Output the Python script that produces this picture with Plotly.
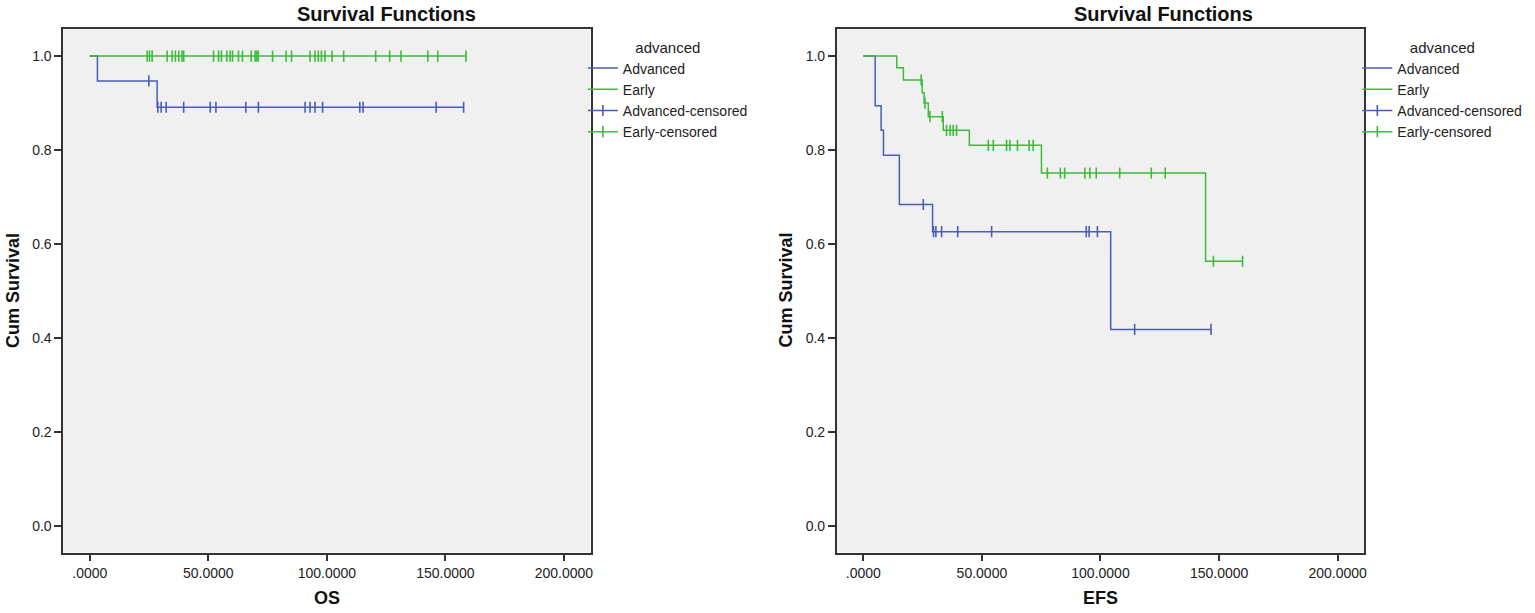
import numpy as np
import plotly.graph_objects as go

# ---- data (time, cumulative survival) ----
# OS, Advanced
os_adv_times = [3.2, 28.4]
os_adv_surv = [0.947, 0.891]
os_adv_cens = [24.9, 28.7, 30.1, 32.2, 39.6, 50.8, 53.2, 65.8, 71.1, 90.8,
               92.9, 95.0, 98.2, 113.9, 115.3, 146.1, 157.7]
# OS, Early (no events)
os_early_times = []
os_early_surv = []
os_early_cens = [24.2, 25.2, 26.3, 32.6, 34.7, 36.1, 37.5, 38.9, 39.6, 52.2,
                 54.3, 55.5, 57.8, 59.2, 60.2, 62.7, 64.4, 68.1, 69.7, 70.4,
                 71.1, 77.1, 82.8, 85.1, 92.9, 95.0, 96.4, 97.7, 99.2, 102.2,
                 107.1, 120.6, 126.5, 131.3, 142.6, 146.8, 158.7]
# EFS, Advanced
efs_adv_times = [5.0, 7.5, 8.5, 15.2, 29.2, 104.3]
efs_adv_surv = [0.894, 0.842, 0.789, 0.684, 0.626, 0.418]
efs_adv_cens = [25.3, 29.6, 30.6, 33.0, 39.8, 54.1, 94.0, 95.2, 98.7, 114.4, 146.6]
# EFS, Early
efs_early_times = [14.1, 16.9, 24.8, 25.6, 27.4, 33.7, 44.7, 75.1, 144.3]
efs_early_surv = [0.975, 0.949, 0.922, 0.900, 0.871, 0.842, 0.810, 0.751, 0.563]
efs_early_cens = [24.4, 26.0, 28.1, 33.3, 35.1, 36.6, 37.9, 39.3, 52.7, 54.8,
                  60.4, 61.8, 65.0, 69.9, 71.6, 77.6, 83.1, 84.9, 93.4, 95.5,
                  98.2, 108.1, 121.4, 127.3, 147.6, 159.9]

x_ticks = [0, 50, 100, 150, 200]
x_ticktext = [".0000", "50.0000", "100.0000", "150.0000", "200.0000"]
y_ticks = [0, 0.2, 0.4, 0.6, 0.8, 1.0]
y_ticktext = ["0.0", "0.2", "0.4", "0.6", "0.8", "1.0"]

BLUE = "#4A5CB8"
GREEN = "#3DBB3D"
FONT = "Arial, Liberation Sans, sans-serif"
W, H = 1535, 613


def fx(p):
    return p / W


def fy(p):
    return 1 - p / H


def step_path(times, surv, cens):
    x = [0] + list(times) + [max(cens)]
    y = [1.0] + list(surv) + [surv[-1] if surv else 1.0]
    return x, y


def cens_level(times, surv, cens):
    s = np.array([1.0] + list(surv))
    idx = np.searchsorted(np.array(times, dtype=float), cens, side="right")
    return s[idx]


def gapped(v):
    out = []
    for a in v:
        out += [float(a), None]
    return out


fig = go.Figure()

panels = [
    ("x", "y", "legend", [
        ("Advanced", BLUE, os_adv_times, os_adv_surv, os_adv_cens),
        ("Early", GREEN, os_early_times, os_early_surv, os_early_cens)]),
    ("x2", "y2", "legend2", [
        ("Advanced", BLUE, efs_adv_times, efs_adv_surv, efs_adv_cens),
        ("Early", GREEN, efs_early_times, efs_early_surv, efs_early_cens)]),
]

for xa, ya, lg, groups in panels:
    for name, col, t, s, c in groups:
        px_, py_ = step_path(t, s, c)
        fig.add_trace(go.Scatter(x=px_, y=py_, mode="lines", line_shape="hv",
                                 line=dict(color=col, width=1.5), name=name,
                                 xaxis=xa, yaxis=ya, legend=lg, hoverinfo="skip"))
    for name, col, t, s, c in groups:
        cy = cens_level(t, s, c)
        fig.add_trace(go.Scatter(x=gapped(c), y=gapped(cy), mode="lines+markers",
                                 line=dict(color=col, width=1.5),
                                 marker=dict(symbol="line-ns", size=8,
                                             line=dict(color=col, width=1.6)),
                                 name=name + "-censored", xaxis=xa, yaxis=ya,
                                 legend=lg, hoverinfo="skip"))

y_dom = [fy(552.5), fy(29.3)]
axis_common = dict(showline=True, mirror=True, linecolor="#333333", linewidth=1.5,
                   showgrid=False, zeroline=False, ticks="outside", ticklen=7,
                   tickwidth=1.5, tickcolor="#333333",
                   tickfont=dict(family=FONT, size=14, color="#222222"))
xa_common = dict(axis_common, range=[-11.24, 211.24], tickvals=x_ticks, ticktext=x_ticktext)
ya_common = dict(axis_common, range=[-0.057, 1.057], tickvals=y_ticks, ticktext=y_ticktext)

legend_common = dict(bgcolor="rgba(0,0,0,0)", font=dict(family=FONT, size=14, color="#222222"),
                     title=dict(text="advanced", side="top center",
                                font=dict(family=FONT, size=15, color="#222222")),
                     xanchor="left", yanchor="top", traceorder="normal")

fig.update_layout(
    width=W, height=H, margin=dict(l=0, r=0, t=0, b=0),
    paper_bgcolor="white", plot_bgcolor="#F0F0F0",
    xaxis=dict(xa_common, domain=[fx(63.3), fx(591.7)], anchor="y"),
    yaxis=dict(ya_common, domain=y_dom, anchor="x"),
    xaxis2=dict(xa_common, domain=[fx(838.3), fx(1367)], anchor="y2"),
    yaxis2=dict(ya_common, domain=y_dom, anchor="x2"),
    legend=dict(legend_common, x=fx(584), y=fy(33)),
    legend2=dict(legend_common, x=fx(1360), y=fy(33)),
    font=dict(family=FONT),
)

ann = []
for cx, axtitle, ycx in [(387.5, "OS", 327.5), (1166, "EFS", 1102.7)]:
    ann.append(dict(text="<b>Survival Functions</b>", x=fx(cx), y=fy(14),
                    xref="paper", yref="paper", showarrow=False,
                    xanchor="center", yanchor="middle",
                    font=dict(family=FONT, size=20, color="#111111")))
    ann.append(dict(text="<b>" + axtitle + "</b>", x=fx(ycx), y=fy(598),
                    xref="paper", yref="paper", showarrow=False,
                    xanchor="center", yanchor="middle",
                    font=dict(family=FONT, size=18, color="#111111")))
for lx in [13, 788]:
    ann.append(dict(text="<b>Cum Survival</b>", x=fx(lx), y=fy(290),
                    xref="paper", yref="paper", showarrow=False, textangle=-90,
                    xanchor="center", yanchor="middle",
                    font=dict(family=FONT, size=18, color="#111111")))
fig.update_layout(annotations=ann)

# drop the browser's default 8px page margin so the figure fills the window
fig.write_html("out.html", config={"displayModeBar": False},
               post_script="document.body.style.margin='0px';")
